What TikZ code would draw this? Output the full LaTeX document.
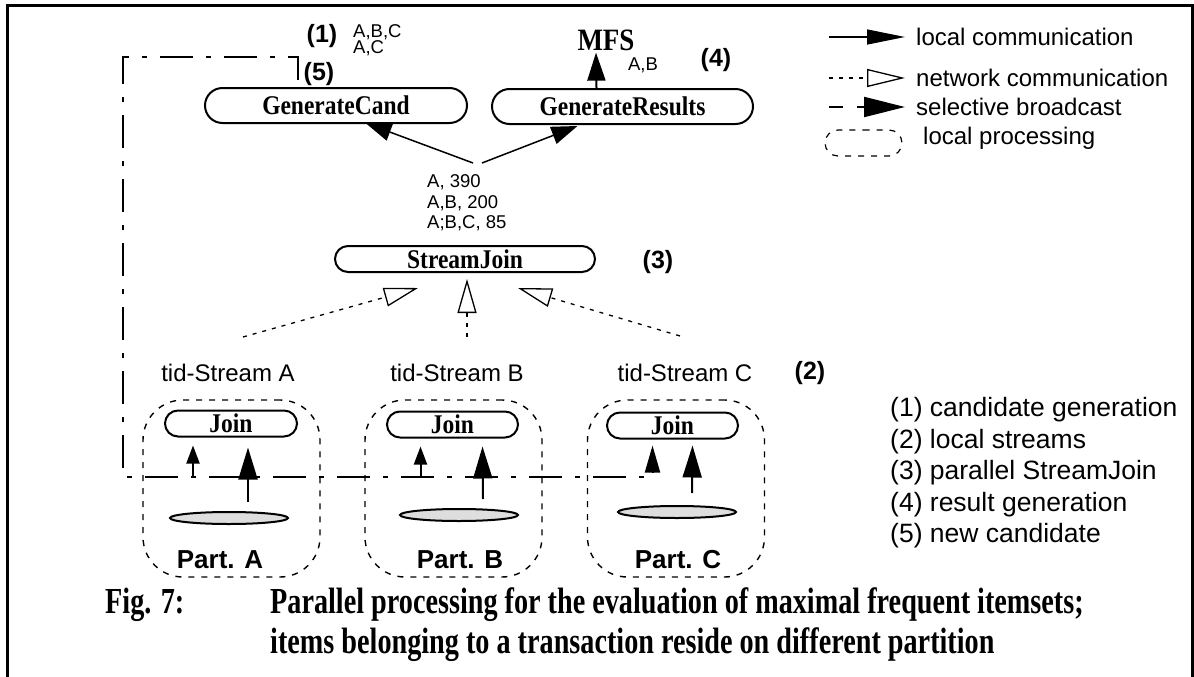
\documentclass[tikz,border=0pt]{standalone}
\usepackage{fontspec}
\setmainfont{Liberation Serif}
\setsansfont{Liberation Sans}
\usetikzlibrary{arrows.meta,shapes.misc,shapes.geometric,positioning,calc}

\begin{document}
\begin{tikzpicture}[x=1pt, y=-1pt,
  procbox/.style={rounded rectangle, draw=black, line width=2pt, fill=white,
    font=\fontsize{23.5}{26}\selectfont\bfseries, inner sep=0pt, minimum height=26pt},
  localbox/.style={rectangle, draw=black, line width=1.4pt, rounded corners=40pt,
    dash pattern=on 6pt off 7pt, minimum width=177pt, minimum height=177pt},
  partdisk/.style={ellipse, draw=black, line width=2pt, fill=black!13,
    minimum width=118pt, minimum height=12pt, inner sep=0pt},
  lcom/.style={-{Triangle[length=32pt, width=19pt]}, line width=2pt},
  lcommid/.style={-{Triangle[length=26pt, width=18pt]}, line width=1.5pt},
  lcomsmall/.style={-{Triangle[length=18pt, width=13pt]}, line width=2pt},
  ncom/.style={-{Triangle[open, length=34pt, width=19pt, line width=1.3pt]},
    line width=1.3pt, dash pattern=on 4pt off 6pt},
  bcast/.style={line width=2pt, dash pattern=on 33pt off 13pt on 5pt off 13pt},
  lbl/.style={font=\sffamily\fontsize{24}{28}\selectfont, inner sep=0pt},
  smalllbl/.style={font=\sffamily\fontsize{18.5}{20.3}\selectfont, inner sep=0pt, align=left},
  steplbl/.style={font=\sffamily\bfseries\fontsize{25}{28}\selectfont, inner sep=0pt},
  partlbl/.style={font=\sffamily\bfseries\fontsize{26}{28}\selectfont, inner sep=0pt},
  keylbl/.style={font=\sffamily\fontsize{26.5}{30}\selectfont, inner sep=0pt, anchor=west},
  caption/.style={font=\bfseries\fontsize{28.2}{32}\selectfont, inner sep=0pt, anchor=west},
]
\useasboundingbox (0,0) rectangle (1194,677);

%% frame
\draw[line width=3pt] (7,677) -- (7,6) -- (1192,6) -- (1192,677);

%% local processing areas
\node[localbox] (localA) at (231.5,488.5) {};
\node[localbox] (localB) at (453.5,488.5) {};
\node[localbox] (localC) at (676,488.5) {};

%% top: candidate and result generation
\node[procbox, minimum width=262pt, minimum height=35pt] (gencand) at (336,105.5) {\scalebox{1}[1.15]{GenerateCand}};
\node[procbox, minimum width=261pt, minimum height=35pt] (genres)  at (622.5,106.5) {\scalebox{1}[1.15]{GenerateResults}};
\node[steplbl] (s1) at (322,36) {(1)};
\node[smalllbl, anchor=west, font=\sffamily\fontsize{18.5}{13.5}\selectfont] (cand) at (353,40) {A,B,C\\A,C};
\node[steplbl] (s5) at (319,74) {(5)};
\node[font=\bfseries\fontsize{27}{28}\selectfont, inner sep=0pt] (mfs) at (606,40) {\scalebox{1}[1.15]{MFS}};
\node[smalllbl] (mfsab) at (643,65) {A,B};
\node[steplbl] (s4) at (716,60) {(4)};

\draw[lcom, -{Triangle[length=28pt, width=18pt]}] ([xshift=-26pt]genres.north) -- ([xshift=-10pt,yshift=-2pt]mfs.south);

%% StreamJoin
\node[procbox, minimum width=260pt] (sjoin) at (465,259) {\scalebox{1}[1.15]{StreamJoin}};
\node[steplbl] (s3) at (658,262) {(3)};
\node[smalllbl, anchor=west] (counts) at (427,203) {A, 390\\A,B, 200\\A;B,C, 85};

\coordinate (fork) at (478,163);
\draw[lcommid] ([xshift=-5pt]fork) -- ([xshift=-84pt,yshift=1pt]gencand.south east);
\draw[lcommid] ([xshift=4pt]fork) -- ([xshift=-45pt,yshift=-1pt]genres.south);

%% tid-streams
\node[lbl] (tidA) at (228,373) {tid-Stream A};
\node[lbl] (tidB) at (457,373) {tid-Stream B};
\node[lbl] (tidC) at (685,373) {tid-Stream C};
\node[steplbl] (s2) at (810,373) {(2)};

\draw[ncom] ([xshift=15pt,yshift=27pt]tidA.north) -- ([xshift=-47pt,yshift=-15pt]sjoin.south);
\draw[ncom] ([xshift=10pt,yshift=27pt]tidB.north) -- ([xshift=2pt,yshift=-6pt]sjoin.south);
\draw[ncom] ([xshift=-5pt,yshift=28pt]tidC.north) -- ([xshift=53pt,yshift=-15pt]sjoin.south);

%% partitions
\node[procbox, minimum width=132pt] (joinA) at (231,423.5) {\scalebox{1}[1.15]{Join}};
\node[procbox, minimum width=131pt] (joinB) at (452.5,424.5) {\scalebox{1}[1.15]{Join}};
\node[procbox, minimum width=131pt] (joinC) at (672.5,425.5) {\scalebox{1}[1.15]{Join}};
\node[partdisk] (diskA) at (229,518) {};
\node[partdisk] (diskB) at (459,515) {};
\node[partdisk] (diskC) at (677,512) {};
\node[partlbl] (partA) at (220,560) {Part. A};
\node[partlbl] (partB) at (460,560) {Part. B};
\node[partlbl] (partC) at (678,560) {Part. C};

\draw[lcom] ([xshift=19pt,yshift=9pt]diskA.north) -- ([xshift=17pt,yshift=-10pt]joinA.south);
\draw[lcom] ([xshift=24pt,yshift=9pt]diskB.north) -- ([xshift=30pt,yshift=-8pt]joinB.south);
\draw[lcom] ([xshift=15pt,yshift=12pt]diskC.north) -- ([xshift=20pt,yshift=-6pt]joinC.south);

%% selective broadcast of new candidates
\coordinate (bcTL) at (123,57);
\coordinate (bcBL) at (123,477);
\draw[bcast, -{Triangle[length=27pt, width=15pt]}] ([xshift=-38pt,yshift=7pt]gencand.north)
  |- (bcTL) -- (bcBL) -| ([xshift=-20pt,yshift=-6pt]joinC.south);
\draw[lcomsmall] ([xshift=-38pt]joinA.south |- bcBL) -- ([xshift=-38pt,yshift=-8pt]joinA.south);
\draw[lcomsmall] ([xshift=-32pt]joinB.south |- bcBL) -- ([xshift=-32pt,yshift=-8pt]joinB.south);

%% legend
\node[lbl, anchor=west] (lt1) at (916,37)  {local communication};
\node[lbl, anchor=west] (lt2) at (916,78)  {network communication};
\node[lbl, anchor=west] (lt3) at (916,107) {selective broadcast};
\node[lbl, anchor=west] (lt4) at (923,138) {local processing};
\coordinate (lg1) at (829,37);
\coordinate (lg2) at (829,78);
\coordinate (lg3) at (829,107);
\draw[line width=1.3pt, -{Triangle[length=38pt, width=15pt]}] (lg1) -- ([xshift=-11pt]lt1.west);
\draw[ncom, -{Triangle[open, length=38pt, width=18pt, line width=1.3pt]}] (lg2) -- ([xshift=-11pt]lt2.west);
\draw[line width=2pt, dash pattern=on 14pt off 14pt, -{Triangle[length=41pt, width=20pt]}] (lg3) -- ([xshift=-11pt]lt3.west);
\node[rounded rectangle, draw, line width=1.2pt, dash pattern=on 6pt off 7pt,
  minimum width=77pt, minimum height=26pt, inner sep=0pt] (legbox) at (863.5,143) {};

%% step explanations
\node[keylbl] (k1) at (890,410) {(1) candidate generation};
\node[keylbl] (k2) at (890,442) {(2) local streams};
\node[keylbl] (k3) at (890,473) {(3) parallel StreamJoin};
\node[keylbl] (k4) at (890,505) {(4) result generation};
\node[keylbl] (k5) at (890,536) {(5) new candidate};

%% caption
\node[caption] (figno) at (105,605) {\scalebox{1}[1.3]{Fig. 7:}};
\node[caption] (cap1) at (270,605) {\scalebox{1}[1.3]{Parallel processing for the evaluation of maximal frequent itemsets;}};
\node[caption] (cap2) at (270,645) {\scalebox{1}[1.3]{items belonging to a transaction reside on different partition}};
\end{tikzpicture}
\end{document}
